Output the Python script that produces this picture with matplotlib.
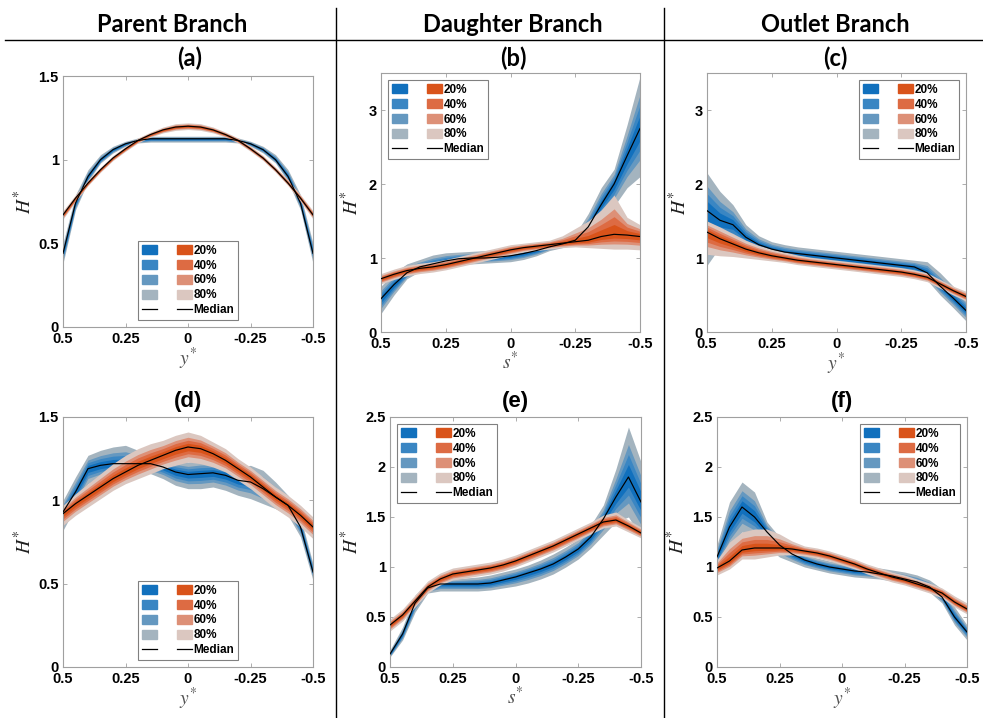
import numpy as np
import matplotlib
matplotlib.use("Agg")
import matplotlib.pyplot as plt
from matplotlib.patches import Patch
from matplotlib.lines import Line2D

plt.rcParams['font.family'] = ['Liberation Sans', 'DejaVu Sans']
plt.rcParams['mathtext.fontset'] = 'stix'

# ---------------- data ----------------
x = [0.5, 0.45, 0.4, 0.35, 0.3, 0.25, 0.2, 0.15, 0.1, 0.05, 0.0,
     -0.05, -0.1, -0.15, -0.2, -0.25, -0.3, -0.35, -0.4, -0.45, -0.5]

band_labels = ["20%", "40%", "60%", "80%"]
band_fraction = [0.25, 0.45, 0.65, 1.0]
blue_colors = ["#1170bd", "#3a86c3", "#6598c0", "#a4b4bf"]
orange_colors = ["#d9531a", "#dd6b43", "#dd9077", "#dbc7c0"]

# (a) Parent branch, top
a_bl_med = [0.44, 0.74, 0.90, 1.00, 1.06, 1.095, 1.115, 1.125, 1.125, 1.125, 1.125, 1.125, 1.125, 1.125, 1.115, 1.095, 1.06, 1.00, 0.90, 0.74, 0.44]
a_bl_lo = [0.38, 0.70, 0.87, 0.98, 1.04, 1.08, 1.10, 1.105, 1.105, 1.105, 1.105, 1.105, 1.105, 1.105, 1.10, 1.08, 1.04, 0.98, 0.87, 0.70, 0.38]
a_bl_hi = [0.50, 0.79, 0.94, 1.03, 1.08, 1.11, 1.13, 1.14, 1.14, 1.14, 1.14, 1.14, 1.14, 1.14, 1.13, 1.11, 1.08, 1.03, 0.94, 0.79, 0.50]
a_or_med = [0.67, 0.77, 0.86, 0.94, 1.01, 1.065, 1.115, 1.15, 1.178, 1.195, 1.20, 1.195, 1.178, 1.15, 1.115, 1.065, 1.01, 0.94, 0.86, 0.77, 0.67]
a_or_lo = [0.645, 0.75, 0.845, 0.925, 0.995, 1.05, 1.10, 1.135, 1.16, 1.175, 1.18, 1.175, 1.16, 1.135, 1.10, 1.05, 0.995, 0.925, 0.845, 0.75, 0.645]
a_or_hi = [0.695, 0.79, 0.88, 0.955, 1.025, 1.08, 1.13, 1.165, 1.195, 1.215, 1.22, 1.215, 1.195, 1.165, 1.13, 1.08, 1.025, 0.955, 0.88, 0.79, 0.695]

# (b) Daughter branch, top
b_bl_med = [0.45, 0.64, 0.80, 0.88, 0.92, 0.96, 0.99, 1.00, 1.00, 1.01, 1.03, 1.06, 1.10, 1.15, 1.19, 1.24, 1.42, 1.72, 2.00, 2.38, 2.75]
b_bl_lo = [0.25, 0.50, 0.72, 0.82, 0.86, 0.89, 0.91, 0.92, 0.93, 0.94, 0.95, 0.98, 1.03, 1.10, 1.14, 1.18, 1.30, 1.55, 1.70, 1.95, 2.10]
b_bl_hi = [0.62, 0.80, 0.92, 0.98, 1.04, 1.07, 1.08, 1.09, 1.10, 1.11, 1.12, 1.13, 1.16, 1.20, 1.24, 1.32, 1.60, 1.95, 2.20, 2.80, 3.45]
b_or_med = [0.72, 0.78, 0.83, 0.86, 0.88, 0.91, 0.95, 0.99, 1.03, 1.07, 1.11, 1.14, 1.16, 1.18, 1.20, 1.22, 1.24, 1.29, 1.32, 1.31, 1.29]
b_or_lo = [0.65, 0.71, 0.76, 0.79, 0.81, 0.84, 0.88, 0.92, 0.96, 1.00, 1.04, 1.08, 1.10, 1.12, 1.14, 1.15, 1.14, 1.13, 1.12, 1.12, 1.11]
b_or_hi = [0.79, 0.85, 0.90, 0.93, 0.95, 0.98, 1.02, 1.06, 1.10, 1.14, 1.18, 1.20, 1.22, 1.24, 1.30, 1.40, 1.50, 1.65, 1.85, 1.55, 1.45]

# (c) Outlet branch, top
c_bl_med = [1.64, 1.51, 1.45, 1.28, 1.18, 1.12, 1.08, 1.06, 1.04, 1.02, 1.00, 0.98, 0.96, 0.94, 0.92, 0.90, 0.88, 0.80, 0.62, 0.46, 0.29]
c_bl_lo = [0.90, 1.15, 1.20, 1.12, 1.07, 1.02, 0.98, 0.96, 0.94, 0.92, 0.90, 0.88, 0.86, 0.84, 0.82, 0.80, 0.78, 0.70, 0.50, 0.33, 0.15]
c_bl_hi = [2.15, 1.90, 1.72, 1.45, 1.30, 1.22, 1.18, 1.15, 1.13, 1.11, 1.09, 1.07, 1.05, 1.03, 1.01, 0.99, 0.97, 0.95, 0.80, 0.62, 0.45]
c_or_med = [1.35, 1.26, 1.19, 1.12, 1.07, 1.03, 1.00, 0.97, 0.95, 0.93, 0.91, 0.89, 0.87, 0.85, 0.83, 0.81, 0.78, 0.74, 0.65, 0.56, 0.48]
c_or_lo = [1.05, 1.03, 1.02, 1.00, 0.98, 0.96, 0.94, 0.91, 0.89, 0.87, 0.85, 0.83, 0.81, 0.79, 0.77, 0.75, 0.72, 0.68, 0.59, 0.50, 0.42]
c_or_hi = [1.50, 1.42, 1.33, 1.24, 1.17, 1.12, 1.08, 1.04, 1.01, 0.99, 0.97, 0.95, 0.93, 0.91, 0.89, 0.87, 0.84, 0.80, 0.71, 0.62, 0.55]

# (d) Parent branch, bottom
d_bl_med = [0.93, 1.05, 1.19, 1.21, 1.22, 1.22, 1.22, 1.22, 1.20, 1.17, 1.155, 1.16, 1.165, 1.15, 1.12, 1.11, 1.07, 1.02, 0.97, 0.84, 0.57]
d_bl_lo = [0.82, 0.96, 1.10, 1.13, 1.15, 1.16, 1.17, 1.16, 1.13, 1.09, 1.07, 1.07, 1.08, 1.06, 1.03, 1.01, 0.98, 0.95, 0.91, 0.78, 0.52]
d_bl_hi = [1.00, 1.14, 1.27, 1.30, 1.32, 1.33, 1.30, 1.27, 1.25, 1.24, 1.23, 1.24, 1.24, 1.23, 1.20, 1.21, 1.18, 1.11, 1.03, 0.90, 0.62]
d_or_med = [0.92, 0.98, 1.03, 1.08, 1.13, 1.17, 1.21, 1.24, 1.27, 1.30, 1.32, 1.31, 1.28, 1.24, 1.19, 1.14, 1.08, 1.02, 0.97, 0.91, 0.84]
d_or_lo = [0.85, 0.91, 0.96, 1.01, 1.06, 1.10, 1.13, 1.16, 1.19, 1.21, 1.23, 1.22, 1.20, 1.17, 1.12, 1.07, 1.01, 0.95, 0.90, 0.84, 0.77]
d_or_hi = [0.97, 1.04, 1.10, 1.16, 1.22, 1.27, 1.31, 1.34, 1.36, 1.39, 1.41, 1.39, 1.35, 1.31, 1.25, 1.20, 1.14, 1.08, 1.03, 0.97, 0.90]

# (e) Daughter branch, bottom
e_bl_med = [0.13, 0.33, 0.64, 0.79, 0.83, 0.83, 0.83, 0.83, 0.84, 0.87, 0.90, 0.94, 0.98, 1.03, 1.10, 1.18, 1.30, 1.48, 1.70, 1.90, 1.65]
e_bl_lo = [0.10, 0.27, 0.55, 0.74, 0.76, 0.76, 0.76, 0.76, 0.77, 0.79, 0.81, 0.84, 0.88, 0.93, 1.00, 1.08, 1.19, 1.32, 1.45, 1.50, 1.30]
e_bl_hi = [0.17, 0.40, 0.72, 0.84, 0.88, 0.88, 0.89, 0.90, 0.92, 0.95, 0.98, 1.02, 1.07, 1.13, 1.20, 1.28, 1.42, 1.62, 1.98, 2.40, 2.05]
e_or_med = [0.42, 0.52, 0.66, 0.80, 0.88, 0.93, 0.95, 0.97, 0.99, 1.02, 1.06, 1.11, 1.16, 1.21, 1.27, 1.33, 1.39, 1.45, 1.47, 1.41, 1.34]
e_or_lo = [0.36, 0.46, 0.60, 0.74, 0.82, 0.87, 0.89, 0.91, 0.93, 0.96, 1.00, 1.05, 1.10, 1.15, 1.21, 1.27, 1.33, 1.39, 1.41, 1.35, 1.29]
e_or_hi = [0.48, 0.58, 0.72, 0.86, 0.94, 0.99, 1.01, 1.03, 1.05, 1.08, 1.12, 1.17, 1.22, 1.27, 1.33, 1.39, 1.45, 1.52, 1.55, 1.47, 1.40]

# (f) Outlet branch, bottom
f_bl_med = [1.10, 1.40, 1.60, 1.50, 1.35, 1.22, 1.13, 1.07, 1.03, 1.00, 0.98, 0.96, 0.95, 0.93, 0.91, 0.88, 0.85, 0.80, 0.70, 0.50, 0.35]
f_bl_lo = [1.00, 1.20, 1.35, 1.30, 1.20, 1.10, 1.05, 1.00, 0.97, 0.94, 0.92, 0.90, 0.89, 0.88, 0.86, 0.83, 0.80, 0.75, 0.64, 0.42, 0.27]
f_bl_hi = [1.22, 1.65, 1.85, 1.75, 1.45, 1.30, 1.20, 1.13, 1.09, 1.06, 1.04, 1.02, 1.00, 0.99, 0.97, 0.95, 0.92, 0.87, 0.78, 0.60, 0.42]
f_or_med = [0.99, 1.06, 1.17, 1.19, 1.19, 1.19, 1.18, 1.16, 1.14, 1.11, 1.07, 1.03, 0.98, 0.94, 0.90, 0.87, 0.83, 0.79, 0.74, 0.65, 0.58]
f_or_lo = [0.92, 0.98, 1.08, 1.08, 1.10, 1.12, 1.12, 1.11, 1.09, 1.06, 1.02, 0.98, 0.93, 0.89, 0.85, 0.82, 0.78, 0.74, 0.69, 0.60, 0.53]
f_or_hi = [1.07, 1.25, 1.35, 1.38, 1.38, 1.33, 1.26, 1.21, 1.19, 1.16, 1.12, 1.08, 1.03, 0.99, 0.95, 0.92, 0.88, 0.84, 0.79, 0.71, 0.64]

xticks = [0.5, 0.25, 0, -0.25, -0.5]
xticklabels = ["0.5", "0.25", "0", "-0.25", "-0.5"]
headers = ["Parent Branch", "Daughter Branch", "Outlet Branch"]

# ---------------- figure ----------------
W, H = 983, 718
fig = plt.figure(figsize=(W / 100, H / 100), dpi=100)


def rect(l, r, t, b):
    return [l / W, 1 - b / H, (r - l) / W, (b - t) / H]


TOP_FONT = ["Lato", "DejaVu Sans"]
BOT_FONT = ["Liberation Sans", "DejaVu Sans"]

panels = [
    dict(rect=rect(63, 313, 76, 327), title="(a)", tx=190, ty=58, tf=TOP_FONT, ts=17, ylim=1.5, yt=[0, 0.5, 1, 1.5],
         ytl=["0", "0.5", "1", "1.5"], xl="$y^{*}$", loc="lower center", ylx=-0.11,
         bl=(a_bl_med, a_bl_lo, a_bl_hi), orr=(a_or_med, a_or_lo, a_or_hi)),
    dict(rect=rect(381, 640, 73, 332), title="(b)", tx=513, ty=58, tf=TOP_FONT, ts=17, ylim=3.5, yt=[0, 1, 2, 3],
         ytl=["0", "1", "2", "3"], xl="$s^{*}$", loc="upper left", ylx=-0.073,
         bl=(b_bl_med, b_bl_lo, b_bl_hi), orr=(b_or_med, b_or_lo, b_or_hi)),
    dict(rect=rect(707, 966, 73, 332), title="(c)", tx=835, ty=58, tf=TOP_FONT, ts=17, ylim=3.5, yt=[0, 1, 2, 3],
         ytl=["0", "1", "2", "3"], xl="$y^{*}$", loc="upper right", ylx=-0.066,
         bl=(c_bl_med, c_bl_lo, c_bl_hi), orr=(c_or_med, c_or_lo, c_or_hi)),
    dict(rect=rect(63, 313, 417, 667), title="(d)", tx=188, ty=401, tf=BOT_FONT, ts=16, ylim=1.5, yt=[0, 0.5, 1, 1.5],
         ytl=["0", "0.5", "1", "1.5"], xl="$y^{*}$", loc="lower center", ylx=-0.11,
         bl=(d_bl_med, d_bl_lo, d_bl_hi), orr=(d_or_med, d_or_lo, d_or_hi)),
    dict(rect=rect(390, 641, 417, 667), title="(e)", tx=515, ty=401, tf=BOT_FONT, ts=16, ylim=2.5, yt=[0, 0.5, 1, 1.5, 2, 2.5],
         ytl=["0", "0.5", "1", "1.5", "2", "2.5"], xl="$s^{*}$", loc="upper left", ylx=-0.11,
         bl=(e_bl_med, e_bl_lo, e_bl_hi), orr=(e_or_med, e_or_lo, e_or_hi)),
    dict(rect=rect(717, 967, 417, 667), title="(f)", tx=842, ty=401, tf=BOT_FONT, ts=16, ylim=2.5, yt=[0, 0.5, 1, 1.5, 2, 2.5],
         ytl=["0", "0.5", "1", "1.5", "2", "2.5"], xl="$y^{*}$", loc="upper right", ylx=-0.116,
         bl=(f_bl_med, f_bl_lo, f_bl_hi), orr=(f_or_med, f_or_lo, f_or_hi)),
]

xa = np.array(x)


def draw_group(ax, grp, colors):
    med, lo, hi = (np.array(v) for v in grp)
    for frac, col in sorted(zip(band_fraction, colors), key=lambda t: -t[0]):
        ax.fill_between(xa, med - frac * (med - lo), med + frac * (hi - med),
                        color=col, lw=0, zorder=2)
    ax.plot(xa, med, color="black", lw=0.85, zorder=3)


for p in panels:
    ax = fig.add_axes(p["rect"])
    draw_group(ax, p["bl"], blue_colors)
    draw_group(ax, p["orr"], orange_colors)
    ax.set_xlim(0.5, -0.5)
    ax.set_ylim(0, p["ylim"])
    ax.set_xticks(xticks)
    ax.set_xticklabels(xticklabels)
    ax.set_yticks(p["yt"])
    ax.set_yticklabels(p["ytl"])
    ax.tick_params(direction="in", length=3, width=0.6, color="#a0a0a0",
                   top=True, right=True, labelsize=10.5)
    ax.tick_params(axis="x", pad=3.5)
    ax.tick_params(axis="y", pad=3)
    for lab in ax.get_xticklabels() + ax.get_yticklabels():
        lab.set_fontweight("bold")
    for s in ax.spines.values():
        s.set_color("#a0a0a0")
        s.set_linewidth(0.8)
    ax.set_xlabel(p["xl"], fontsize=14, color="#505050", labelpad=0)
    ax.set_ylabel("$H^{*}$", fontsize=14, color="#202020")
    ax.yaxis.set_label_coords(p["ylx"], 0.5)
    fig.text(p["tx"] / W, 1 - p["ty"] / H, p["title"], ha="center", va="center",
             fontsize=p["ts"], fontweight="bold", family=p["tf"])

    handles = [Patch(color=c) for c in blue_colors] + [Line2D([], [], color="black", lw=0.9)] + \
              [Patch(color=c) for c in orange_colors] + [Line2D([], [], color="black", lw=0.9)]
    labels = [""] * 5 + band_labels + ["Median"]
    leg = ax.legend(handles, labels, ncol=2, loc=p["loc"],
                    prop={"weight": "bold", "size": 8.5},
                    handlelength=1.3, handleheight=0.8, handletextpad=0.1,
                    columnspacing=1.6, labelspacing=0.25, borderpad=0.3,
                    borderaxespad=0.6, frameon=True, fancybox=False)
    leg.get_frame().set_edgecolor("#606060")
    leg.get_frame().set_linewidth(0.8)
    leg.set_zorder(5)

# headers and separators
for hx, txt in zip([172, 513, 835], headers):
    fig.text(hx / W, 1 - 24 / H, txt, ha="center", va="center", fontsize=17,
             fontweight="bold", family=TOP_FONT)

fig.add_artist(Line2D([5 / W, 1.0], [1 - 40 / H, 1 - 40 / H], color="black", lw=1.0))
for vx in [336, 664]:
    fig.add_artist(Line2D([vx / W, vx / W], [1 - 8 / H, 0.0], color="black", lw=1.0))

fig.savefig("out.png", dpi=100)
